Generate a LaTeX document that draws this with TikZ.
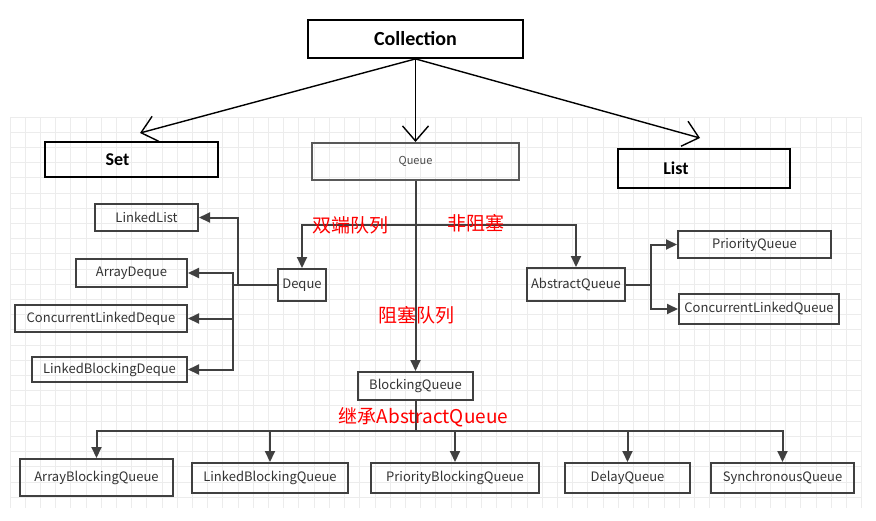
\documentclass[tikz,border=0pt]{standalone}
\usepackage{fontspec}
\setmainfont{Noto Sans CJK SC}
\newfontfamily\titlefont{Carlito}
\usetikzlibrary{arrows.meta}
\definecolor{linegray}{RGB}{64,64,64}
\definecolor{gridgray}{RGB}{236,236,236}
\definecolor{labelred}{RGB}{255,0,0}
\definecolor{textgray}{RGB}{51,51,51}

\tikzset{
  classbox/.style={draw=linegray, line width=2pt, inner sep=0pt, text=textgray, font=\fontsize{13}{15}\selectfont},
  topbox/.style={draw=black, line width=1.8pt, inner sep=0pt, font=\titlefont\bfseries\fontsize{18}{22}\selectfont},
  flow/.style={draw=linegray, line width=2pt, -{Triangle[length=11pt,width=10pt]}},
  link/.style={draw=linegray, line width=2pt},
  inherit/.style={draw=black, line width=1.4pt, -{Straight Barb[length=15pt,width=26pt]}},
  redtext/.style={text=labelred, font=\fontsize{19}{21}\selectfont, inner sep=0pt}
}

\begin{document}
\begin{tikzpicture}[x=1pt, y=-1pt]
  \useasboundingbox (0,0) rectangle (876,520);
  \fill[white] (0,0) rectangle (876,520);
  \foreach \i in {0,...,56}
    \draw[gridgray, line width=1pt] (10+15.21*\i,117) -- (10+15.21*\i,508);
  \foreach \j in {0,...,25}
    \draw[gridgray, line width=1pt] (10,117+15.21*\j) -- (862,117+15.21*\j);

  % top level
  \node[topbox, minimum width=215pt, minimum height=38pt, font=\titlefont\bfseries\fontsize{20}{24}\selectfont] (collection) at (415.5,39) {Collection};
  \node[topbox, minimum width=173pt, minimum height=35pt, label={[xshift=-14pt, font=\titlefont\bfseries\fontsize{18}{22}\selectfont]center:Set}] (set) at (131.5,159.5) {};
  \node[topbox, minimum width=172pt, minimum height=39pt, label={[xshift=-28pt, font=\titlefont\bfseries\fontsize{18}{22}\selectfont]center:List}] (list) at (704,168.5) {};
  \node[classbox, draw=black!65, text=black!70, line width=2pt, minimum width=207pt, minimum height=37pt, font=\fontsize{11}{13}\selectfont] (queue) at (415.5,161.5) {Queue};

  \draw[inherit] (collection.south) -- (140,133);
  \draw[inherit] (collection.south) -- (queue.north);
  \draw[inherit] (collection.south) -- (700,138);

  % deque side
  \node[classbox, minimum width=48pt, minimum height=32pt] (deque) at (302,285) {Deque};
  \node[classbox, minimum width=103pt, minimum height=27pt] (linkedlist) at (146.5,217.5) {LinkedList};
  \node[classbox, minimum width=111pt, minimum height=28pt] (arraydeque) at (131.5,273) {ArrayDeque};
  \node[classbox, minimum width=172pt, minimum height=27pt] (cldeque) at (101,318.5) {ConcurrentLinkedDeque};
  \node[classbox, minimum width=155pt, minimum height=25pt] (lbdeque) at (109.5,369.5) {LinkedBlockingDeque};

  % non blocking side
  \node[classbox, minimum width=98pt, minimum height=33pt] (absqueue) at (576,284.5) {AbstractQueue};
  \node[classbox, minimum width=153pt, minimum height=27pt] (prioqueue) at (754.5,244.5) {PriorityQueue};
  \node[classbox, minimum width=160pt, minimum height=30pt] (clqueue) at (759,309) {ConcurrentLinkedQueue};

  % blocking side
  \node[classbox, minimum width=115pt, minimum height=28pt] (blockqueue) at (415.5,386) {BlockingQueue};
  \node[classbox, minimum width=153pt, minimum height=37pt] (abqueue) at (96.5,477.5) {ArrayBlockingQueue};
  \node[classbox, minimum width=156pt, minimum height=30pt] (lbqueue) at (270,478) {LinkedBlockingQueue};
  \node[classbox, minimum width=168pt, minimum height=30pt] (pbqueue) at (455,478) {PriorityBlockingQueue};
  \node[classbox, minimum width=125pt, minimum height=30pt] (delayqueue) at (627.5,478) {DelayQueue};
  \node[classbox, minimum width=143pt, minimum height=30pt] (syncqueue) at (782.5,478) {SynchronousQueue};

  \coordinate (qsplit) at (415.5,225);
  \coordinate (djoin) at (233,285);
  \coordinate (ljoin) at (238,285);
  \coordinate (ajoin) at (651,284.5);
  \coordinate (bjoin) at (415.5,431);

  \draw[flow] (queue.south) -- (blockqueue.north);
  \draw[flow] (qsplit) -| (deque.north);
  \draw[flow] (qsplit) -| (absqueue.north);

  \draw[link] (deque.west) -- (djoin);
  \draw[flow] (ljoin) |- (linkedlist.east);
  \draw[flow] (djoin) |- (arraydeque.east);
  \draw[flow] (djoin) |- (cldeque.east);
  \draw[flow] (djoin) |- (lbdeque.east);

  \draw[link] (absqueue.east) -- (ajoin);
  \draw[flow] (ajoin) |- (prioqueue.west);
  \draw[flow] (ajoin) |- (clqueue.west);

  \draw[link] (blockqueue.south) -- (bjoin);
  \draw[flow] (bjoin) -| (abqueue.north);
  \draw[flow] (bjoin) -| (lbqueue.north);
  \draw[flow] (bjoin) -| (pbqueue.north);
  \draw[flow] (bjoin) -| (delayqueue.north);
  \draw[flow] (bjoin) -| (syncqueue.north);

  % red labels
  \node[redtext] (dequelabel) at (350,225) {双端队列};
  \node[redtext] (nonblocklabel) at (476,223) {非阻塞};
  \node[redtext] (blocklabel) at (416,315) {阻塞队列};
  \node[redtext] (extendlabel) at (423.5,417) {继承AbstractQueue};

\end{tikzpicture}
\end{document}
